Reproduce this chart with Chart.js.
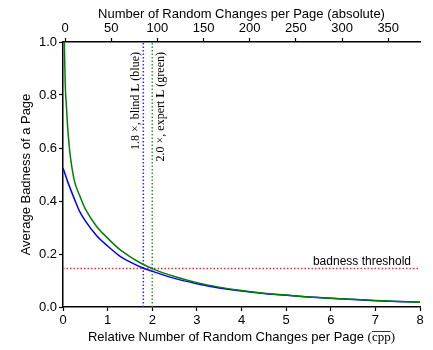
<!DOCTYPE html>
<html>
<head>
<meta charset="utf-8">
<script src="https://cdn.jsdelivr.net/npm/chart.js@4"></script>
<style>html,body{margin:0;padding:0;background:#fff}</style>
</head>
<body>
<canvas id="myChart" width="433" height="350"></canvas>
<script>
// values
const cppExpert = [0.03, 0.05, 0.076, 0.1, 0.15, 0.25, 0.375, 0.5, 0.75, 1, 1.25, 1.5, 1.75, 2, 2.5, 3, 3.5, 4, 4.5, 5, 5.5, 6, 6.5, 7, 7.5, 8];
const badnessExpert = [1.0, 0.84, 0.76, 0.69, 0.59, 0.48, 0.42, 0.37, 0.305, 0.26, 0.22, 0.19, 0.165, 0.145, 0.115, 0.092, 0.075, 0.062, 0.052, 0.045, 0.038, 0.033, 0.029, 0.025, 0.021, 0.018];
const cppBlind = [0, 0.1, 0.25, 0.375, 0.5, 0.75, 1, 1.25, 1.5, 1.75, 2, 2.5, 3, 3.5, 4, 4.5, 5, 5.5, 6, 6.5, 7, 7.5, 8];
const badnessBlind = [0.525, 0.475, 0.41, 0.36, 0.325, 0.27, 0.23, 0.195, 0.17, 0.15, 0.135, 0.108, 0.088, 0.072, 0.06, 0.051, 0.044, 0.038, 0.033, 0.028, 0.024, 0.021, 0.018];
const blindFactor = 1.8;
const expertFactor = 2.0;
const threshold = 0.145;
const bottomTicks = [0, 1, 2, 3, 4, 5, 6, 7, 8];
const topTicks = [0, 50, 100, 150, 200, 250, 300, 350];
const leftTicks = [0, 0.2, 0.4, 0.6, 0.8, 1.0];

const SANS = '"Liberation Sans", Arial, sans-serif';
const SERIF = '"Liberation Serif", "Times New Roman", serif';

const pts = (xs, ys) => xs.map((x, i) => ({x: x, y: ys[i]}));

const curve = (data, color) => ({
    data: data, borderColor: color, borderWidth: 1.5, pointRadius: 0,
    showLine: true, fill: false, cubicInterpolationMode: 'monotone'
});
const dotted = (data, color) => ({
    data: data, borderColor: color, borderWidth: 1.5, pointRadius: 0,
    showLine: true, fill: false, borderDash: [1.5, 2]
});

const labels = {
    id: 'labels',
    afterDraw(chart) {
        const ctx = chart.ctx;
        const x = chart.scales.x, y = chart.scales.y;
        const area = chart.chartArea;
        ctx.save();
        ctx.fillStyle = '#000';

        // rotated notes next to the dotted lines
        const note = (xv, dx, parts) => {
            let w = 0;
            parts.forEach(p => { ctx.font = p[1]; w += ctx.measureText(p[0]).width; });
            ctx.save();
            ctx.translate(x.getPixelForValue(xv) + dx, area.top + 10 + w);
            ctx.rotate(-Math.PI / 2);
            ctx.textBaseline = 'middle';
            ctx.textAlign = 'left';
            let off = 0;
            parts.forEach(p => { ctx.font = p[1]; ctx.fillText(p[0], off, 0); off += ctx.measureText(p[0]).width; });
            ctx.restore();
        };
        note(blindFactor, -7.5, [[blindFactor.toFixed(1) + ' \u00d7, blind ', '12px ' + SERIF], ['L', 'bold 12px ' + SERIF], [' (blue)', '12px ' + SERIF]]);
        note(expertFactor, 8.5, [[expertFactor.toFixed(1) + ' \u00d7, expert ', '12px ' + SERIF], ['L', 'bold 12px ' + SERIF], [' (green)', '12px ' + SERIF]]);

        // threshold label
        ctx.font = '12px ' + SANS;
        ctx.textAlign = 'right';
        ctx.textBaseline = 'middle';
        ctx.fillText('badness threshold', x.getPixelForValue(8) - 9, y.getPixelForValue(threshold) - 7);

        // bottom axis title, sans part + serif (cpp) with overline
        const a = 'Relative Number of Random Changes per Page ';
        ctx.font = '13px ' + SANS;
        const wa = ctx.measureText(a).width;
        ctx.font = '13px ' + SERIF;
        const wp = ctx.measureText('(').width, wc = ctx.measureText('cpp').width, wq = ctx.measureText(')').width;
        let sx = (area.left + area.right) / 2 - (wa + wp + wc + wq) / 2;
        const by = 341;
        ctx.textAlign = 'left';
        ctx.textBaseline = 'alphabetic';
        ctx.font = '13px ' + SANS;
        ctx.fillText(a, sx, by);
        sx += wa;
        ctx.font = '13px ' + SERIF;
        ctx.fillText('(', sx, by);
        ctx.fillText('cpp', sx + wp, by);
        ctx.fillText(')', sx + wp + wc, by);
        ctx.strokeStyle = '#000';
        ctx.lineWidth = 0.8;
        ctx.beginPath();
        ctx.moveTo(sx + wp, by - 9.5);
        ctx.lineTo(sx + wp + wc, by - 9.5);
        ctx.stroke();
        ctx.restore();
    }
};

const tickFont = {family: SANS, size: 13};
const axisGrid = {drawOnChartArea: false, tickLength: 4, tickColor: '#000', tickWidth: 1.2};
const axisBorder = {color: '#000', width: 1.5};

new Chart(document.getElementById('myChart').getContext('2d'), {
    type: 'scatter',
    data: {
        datasets: [
            curve(pts(cppExpert, badnessExpert), '#008000'),
            curve(pts(cppBlind, badnessBlind), '#0000ff'),
            dotted([{x: blindFactor, y: 0}, {x: blindFactor, y: 1}], '#2a2aff'),
            dotted([{x: expertFactor, y: 0}, {x: expertFactor, y: 1}], '#2aa02a'),
            dotted([{x: 0, y: threshold}, {x: 8, y: threshold}], '#e8303a')
        ]
    },
    options: {
        responsive: false,
        animation: false,
        devicePixelRatio: 1,
        layout: {padding: {left: 0, right: 13, top: 0, bottom: 0}},
        plugins: {legend: {display: false}, tooltip: {enabled: false}},
        scales: {
            x: {
                type: 'linear', position: 'bottom', min: 0, max: 8,
                afterBuildTicks: s => { s.ticks = bottomTicks.map(v => ({value: v})); },
                afterFit: s => { s.height = 43; },
                ticks: {font: tickFont, color: '#000', padding: 2, maxRotation: 0},
                grid: axisGrid, border: axisBorder
            },
            x2: {
                type: 'linear', axis: 'x', position: 'top', min: -2.2, max: 384.4,
                afterBuildTicks: s => { s.ticks = topTicks.map(v => ({value: v})); },
                afterFit: s => { s.height = 42; },
                ticks: {font: tickFont, color: '#000', padding: 2, maxRotation: 0},
                title: {display: true, text: 'Number of Random Changes per Page (absolute)', font: tickFont, color: '#000', padding: {top: 7, bottom: 0}},
                grid: axisGrid, border: axisBorder
            },
            y: {
                type: 'linear', position: 'left', min: 0, max: 1,
                afterBuildTicks: s => { s.ticks = leftTicks.map(v => ({value: v})); },
                afterFit: s => { s.width = 63; },
                ticks: {font: tickFont, color: '#000', padding: 2, callback: v => v.toFixed(1)},
                title: {display: true, text: 'Average Badness of a Page', font: tickFont, color: '#000', padding: {top: 19, bottom: 0}},
                grid: axisGrid, border: axisBorder
            }
        }
    },
    plugins: [labels]
});
</script>
</body>
</html>
